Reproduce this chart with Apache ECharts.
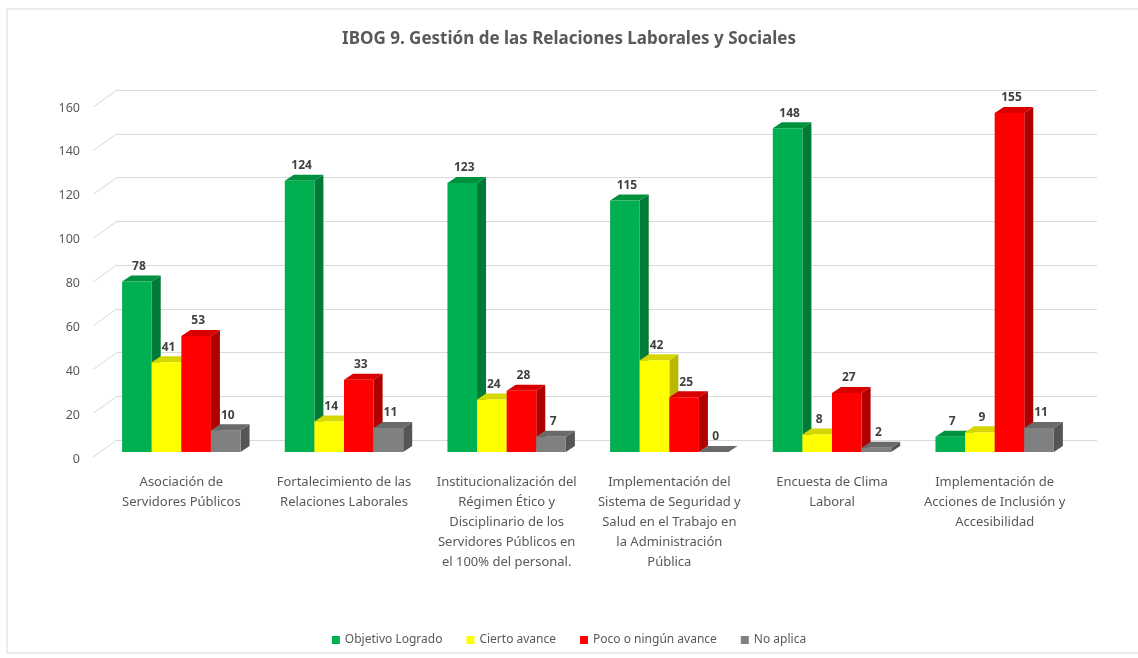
<!DOCTYPE html>
<html>
<head>
<meta charset="utf-8">
<script src="https://cdn.jsdelivr.net/npm/echarts@6/dist/echarts.min.js"></script>
<style>
html,body{margin:0;padding:0;background:#fff;}
#c{width:1138px;height:658px;}
</style>
</head>
<body>
<div id="c"></div>
<script>
var categories = [
  "Asociación de\nServidores Públicos",
  "Fortalecimiento de las\nRelaciones Laborales",
  "Institucionalización del\nRégimen Ético y\nDisciplinario de los\nServidores Públicos en\nel 100% del personal.",
  "Implementación del\nSistema de Seguridad y\nSalud en el Trabajo en\nla Administración\nPública",
  "Encuesta de Clima\nLaboral",
  "Implementación de\nAcciones de Inclusión y\nAccesibilidad"
];
var seriesNames = ["Objetivo Logrado", "Cierto avance", "Poco o ningún avance", "No aplica"];
var objetivoLogrado = [78, 124, 123, 115, 148, 7];
var ciertoAvance = [41, 14, 24, 42, 8, 9];
var pocoAvance = [53, 33, 28, 25, 27, 155];
var noAplica = [10, 11, 7, 0, 2, 11];
var yTicks = [0, 20, 40, 60, 80, 100, 120, 140, 160];

var seriesValues = [objetivoLogrado, ciertoAvance, pocoAvance, noAplica];
var faceColors = [
  {front: "#00B050", side: "#007A37", top: "#00913F"},
  {front: "#FFFF00", side: "#B8B800", top: "#D6D600"},
  {front: "#FF0000", side: "#B00000", top: "#D80000"},
  {front: "#808080", side: "#555555", top: "#6A6A6A"}
];
var DX = 9, DY = 6;

function makeRender(k) {
  var col = faceColors[k];
  return function (params, api) {
    var i = api.value(0), v = api.value(1);
    var base = api.coord([i, 0]);
    var top = api.coord([i, v]);
    var bw = api.size([1, 0])[0] * 0.182;
    var x0 = base[0] + (k - 2) * bw;
    var x1 = x0 + bw;
    var yb = base[1], yt = top[1];
    return {
      type: 'group',
      children: [
        {type: 'polygon', shape: {points: [[x1, yt], [x1 + DX, yt - DY], [x1 + DX, yb - DY], [x1, yb]]},
          style: {fill: col.side}},
        {type: 'polygon', shape: {points: [[x0, yt], [x1, yt], [x1 + DX, yt - DY], [x0 + DX, yt - DY]]},
          style: {fill: col.top}},
        {type: 'rect', shape: {x: x0, y: yt, width: bw, height: yb - yt},
          style: {fill: col.front}},
        {type: 'text', z2: 100, style: {text: String(v), x: x0 + bw / 2 + 2, y: yt - DY - 3,
          align: 'center', verticalAlign: 'bottom', fill: '#404040',
          font: 'bold 12px "Noto Sans", sans-serif'}}
      ]
    };
  };
}

var series = [];
for (var k = 0; k < 4; k++) {
  series.push({
    name: seriesNames[k],
    type: 'custom',
    xAxisIndex: 0, yAxisIndex: 0,
    itemStyle: {color: faceColors[k].front},
    renderItem: makeRender(k),
    encode: {x: 0, y: 1},
    data: seriesValues[k].map(function (v, i) { return [i, v]; }),
    z: 5
  });
}
// diagonal wall connectors from tick labels to back wall gridlines
series.push({
  type: 'custom',
  xAxisIndex: 1, yAxisIndex: 1,
  silent: true,
  renderItem: function (params, api) {
    var p = api.coord([0, api.value(0)]);
    return {type: 'line', shape: {x1: p[0], y1: p[1], x2: p[0] - 24, y2: p[1] + 17},
      style: {stroke: '#d9d9d9', lineWidth: 1}};
  },
  data: yTicks.map(function (t) { return [t]; }),
  encode: {y: 0},
  z: 1
});

var chart = echarts.init(document.getElementById('c'), null, {renderer: 'canvas'});
chart.setOption({
  backgroundColor: '#ffffff',
  animation: false,
  title: {
    text: 'IBOG 9. Gestión de las Relaciones Laborales y Sociales',
    left: 'center', top: 26,
    textStyle: {fontFamily: '"Noto Sans", sans-serif', fontSize: 17, fontWeight: 'bold', color: '#595959'}
  },
  legend: {
    data: seriesNames,
    bottom: 7, left: 'center',
    icon: 'rect', itemWidth: 8, itemHeight: 8, itemGap: 24,
    textStyle: {fontFamily: '"Noto Sans", sans-serif', fontSize: 12, color: '#595959'}
  },
  graphic: [{
    type: 'rect', shape: {x: 7, y: 9, width: 1140, height: 644},
    style: {fill: 'none', stroke: '#d9d9d9', lineWidth: 1}, z: -1
  }],
  grid: [
    {left: 100, right: 62, top: 102, bottom: 206},
    {left: 117, right: 41, top: 90, bottom: 218},
    {left: 96, right: 61, top: 108, bottom: 199}
  ],
  xAxis: [
    {gridIndex: 0, type: 'category', data: categories,
      axisLine: {show: false}, axisTick: {show: false},
      axisLabel: {interval: 0, margin: 20, lineHeight: 20, color: '#595959',
        fontFamily: '"Noto Sans", sans-serif', fontSize: 13, verticalAlign: 'top'}},
    {gridIndex: 1, type: 'value', min: 0, max: 1, show: false},
    {gridIndex: 2, type: 'value', min: 0, max: 1, show: false}
  ],
  yAxis: [
    {gridIndex: 0, type: 'value', min: 0, max: 160, interval: 20, show: false},
    {gridIndex: 1, type: 'value', min: 0, max: 160, interval: 20,
      axisLine: {show: false}, axisTick: {show: false}, axisLabel: {show: false},
      splitLine: {show: true, lineStyle: {color: '#d9d9d9', width: 1}}},
    {gridIndex: 2, type: 'value', min: 0, max: 160, interval: 20,
      axisLine: {show: false}, axisTick: {show: false}, splitLine: {show: false},
      axisLabel: {margin: 16, color: '#595959', fontFamily: '"Noto Sans", sans-serif', fontSize: 12.5}}
  ],
  series: series
});
</script>
</body>
</html>
